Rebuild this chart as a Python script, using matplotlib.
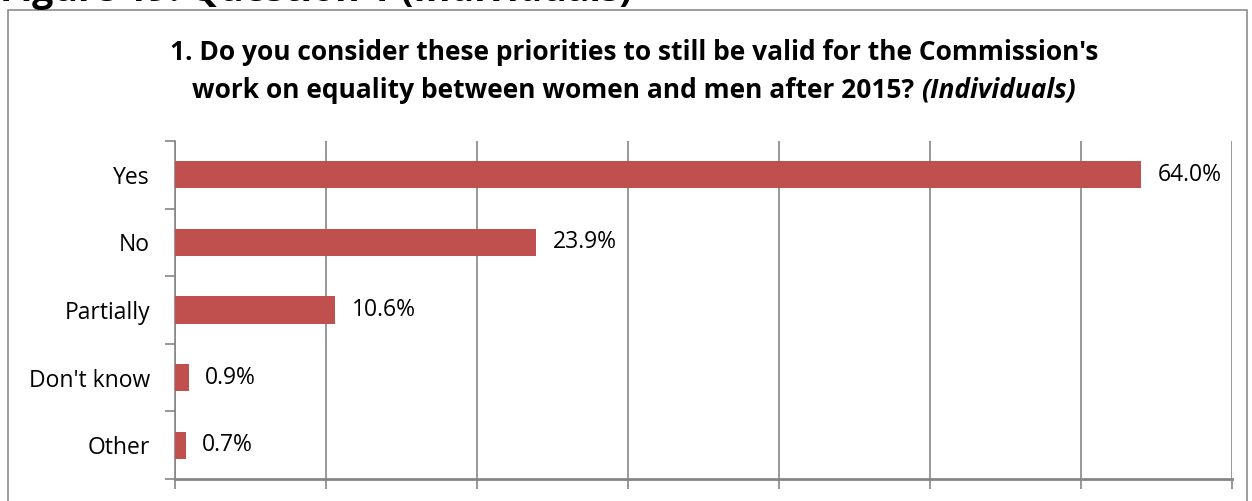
import matplotlib
matplotlib.use("Agg")
import matplotlib.pyplot as plt
from matplotlib.patches import Rectangle
import numpy as np

categories = ["Yes", "No", "Partially", "Don't know", "Other"]
values = [64.0, 23.9, 10.6, 0.9, 0.7]
value_labels = ["64.0%", "23.9%", "10.6%", "0.9%", "0.7%"]
x_ticks = [0, 10, 20, 30, 40, 50, 60, 70]

FONT = "Open Sans"
BAR = "#C0504D"
GRID = "#868686"

W, H = 1252, 501
fig = plt.figure(figsize=(W / 100, H / 100), dpi=100)

# outer chart frame
fig.patches.append(Rectangle((8 / W, -0.2), (1247 - 8) / W, 1.2 - 10 / H,
                             transform=fig.transFigure, fill=False,
                             edgecolor="#8C8C8C", linewidth=1.2))

# cut-off header
fig.text(0.0, 1 - 1 / H, "Figure 19: Question 1 (Individuals)", fontsize=27,
         fontweight="bold", family=FONT, ha="left", va="baseline", color="black")

TS = 19
CX = 634 / W
fig.text(CX, 1 - 53 / H,
         "1. Do you consider these priorities to still be valid for the Commission's",
         fontsize=TS, fontweight="bold", family=FONT, ha="center", va="center")

renderer = fig.canvas.get_renderer()
part1 = "work on equality between women and men after 2015? "
part2 = "(Individuals)"
t1 = fig.text(0, 1 - 90 / H, part1, fontsize=TS, fontweight="bold", family=FONT,
              ha="left", va="center")
t2 = fig.text(0, 1 - 90 / H, part2, fontsize=TS, fontweight="bold", style="italic",
              family=FONT, ha="left", va="center")
w1 = t1.get_window_extent(renderer).width
w2 = t2.get_window_extent(renderer).width
x0 = CX * W - (w1 + w2) / 2
t1.set_x(x0 / W)
t2.set_x((x0 + w1) / W)

ax = fig.add_axes([175 / W, 1 - 479 / H, (1232 - 175) / W, (479 - 141) / H])
y = np.arange(len(categories))
ax.barh(y, values, height=0.4, color=BAR, zorder=3)
ax.set_xlim(0, 70)
ax.set_ylim(len(categories) - 0.5, -0.5)

for yi, v, lab in zip(y, values, value_labels):
    ax.annotate(lab, (v, yi), xytext=(12, 0), textcoords="offset points",
                va="center", ha="left", fontsize=16.5, family=FONT)

ax.set_xticks(x_ticks)
ax.set_xticklabels([])
ax.tick_params(axis="x", length=7, color=GRID, width=1.2)
ax.grid(axis="x", color=GRID, linewidth=1.2, zorder=0)

ax.set_yticks(y)
ax.set_yticklabels(categories, fontsize=16.5, family=FONT)
ax.tick_params(axis="y", which="major", length=0, pad=18)
ax.set_yticks(np.arange(-0.5, len(categories) + 0.5, 1), minor=True)
ax.tick_params(axis="y", which="minor", length=7, color=GRID, width=1.2)

for s in ["top", "right"]:
    ax.spines[s].set_visible(False)
ax.spines["left"].set_color(GRID)
ax.spines["left"].set_linewidth(1.2)
ax.spines["bottom"].set_color(GRID)
ax.spines["bottom"].set_linewidth(2)

fig.savefig("out.png", dpi=100)
